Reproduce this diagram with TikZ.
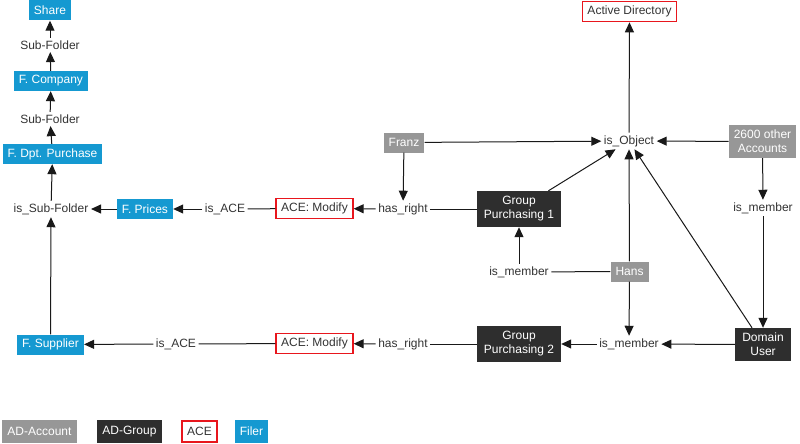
\documentclass[tikz,border=0pt]{standalone}
\usepackage{fontspec}
\setmainfont{Liberation Sans}
\usetikzlibrary{arrows.meta}
\definecolor{filer}{HTML}{1599D1}
\definecolor{acct}{HTML}{979797}
\definecolor{grp}{HTML}{2E2E2E}
\definecolor{acered}{HTML}{E8161D}
\definecolor{txt}{HTML}{333333}
\tikzset{
  base/.style={font=\fontsize{12}{14}\selectfont, inner xsep=5pt, inner ysep=2pt, minimum height=20pt, align=center},
  filerbox/.style={base, fill=filer, text=white},
  acctbox/.style={base, fill=acct, text=white},
  grpbox/.style={base, fill=grp, text=white, minimum width=84pt, minimum height=36pt},
  acebox/.style={base, draw=acered, line width=1.6pt, text=txt, minimum height=20pt},
  lbl/.style={font=\fontsize{12}{14}\selectfont, text=txt, inner sep=2.5pt},
  conn/.style={draw=black!90, line width=1pt},
  arr/.style={conn, -{Triangle[length=10pt,width=9pt]}},
}
\begin{document}
\begin{tikzpicture}[x=1pt,y=-1pt]
\useasboundingbox (0,0) rectangle (800,444);
% folder chain
\node[filerbox] (share) at (50,10.5) {Share};
\node[lbl] (sf1) at (50,45) {Sub-Folder};
\node[filerbox] (fcomp) at (51,81) {F. Company};
\node[lbl] (sf2) at (50,119) {Sub-Folder};
\node[filerbox] (fdpt) at (52.5,154) {F. Dpt. Purchase};
\node[lbl] (isf) at (51,209) {is\_Sub-Folder};
\node[filerbox] (fprices) at (145,209) {F. Prices};
\node[lbl] (isace1) at (225,209) {is\_ACE};
\node[acebox] (ace1) at (314.5,208.5) {ACE: Modify};
\node[lbl] (hr1) at (403,209) {has\_right};
\node[acctbox] (franz) at (404,142.5) {Franz};
\node[lbl] (isobj) at (629,141) {is\_Object};
\node[acebox] (ad) at (629.5,11.5) {Active Directory};
\node[acctbox, minimum height=33pt, inner ysep=1pt] (other) at (762.5,141.5) {2600 other\\Accounts};
\node[lbl] (im1) at (763,208) {is\_member};
\node[grpbox] (gp1) at (519,209) {Group\\Purchasing 1};
\node[lbl] (im2) at (519,272) {is\_member};
\node[acctbox] (hans) at (629.5,271.5) {Hans};
\node[lbl] (im3) at (629,344) {is\_member};
\node[grpbox] (gp2) at (519,344) {Group\\Purchasing 2};
\node[grpbox, minimum width=56pt, minimum height=33pt] (du) at (763,344.5) {Domain\\User};
\node[lbl] (hr2) at (403,344) {has\_right};
\node[acebox] (ace2) at (314.5,343.5) {ACE: Modify};
\node[lbl] (isace2) at (176,344) {is\_ACE};
\node[filerbox] (fsup) at (50.5,344.5) {F. Supplier};
% legend
\node[acctbox, minimum height=23pt] (lacct) at (39.5,431.5) {AD-Account};
\node[grpbox, minimum width=0pt, minimum height=23pt, inner xsep=5pt] (lgrp) at (129.5,431.5) {AD-Group};
\node[acebox, minimum height=21pt] (lace) at (199.5,431.5) {ACE};
\node[filerbox, minimum height=23pt] (lfiler) at (251.5,431.5) {Filer};
% connectors
\draw[arr] (fcomp) -- (sf1);
\draw[arr] (sf1) -- (share);
\draw[arr] (fdpt) -- (sf2);
\draw[arr] (sf2) -- (fcomp);
\draw[arr] (isf) -- (fdpt);
\draw[arr] (fprices) -- (isf);
\draw[conn] (ace1) -- (isace1);
\draw[arr] (isace1) -- (fprices);
\draw[conn] (gp1) -- (hr1);
\draw[arr] (hr1) -- (ace1);
\draw[arr] (franz) -- (hr1);
\draw[arr] (franz) -- (isobj);
\draw[arr] (other) -- (isobj);
\draw[arr] (gp1) -- (isobj);
\draw[arr] (isobj) -- (ad);
\draw[arr] (hans) -- (isobj);
\draw[arr] (du) -- (isobj);
\draw[conn] (hans) -- (im2);
\draw[arr] (im2) -- (gp1);
\draw[arr] (hans) -- (im3);
\draw[arr] (du) -- (im3);
\draw[arr] (im3) -- (gp2);
\draw[arr] (other) -- (im1);
\draw[arr] (im1) -- (du);
\draw[conn] (gp2) -- (hr2);
\draw[arr] (hr2) -- (ace2);
\draw[conn] (ace2) -- (isace2);
\draw[arr] (isace2) -- (fsup);
\draw[arr] (fsup) -- (isf);
\end{tikzpicture}
\end{document}
